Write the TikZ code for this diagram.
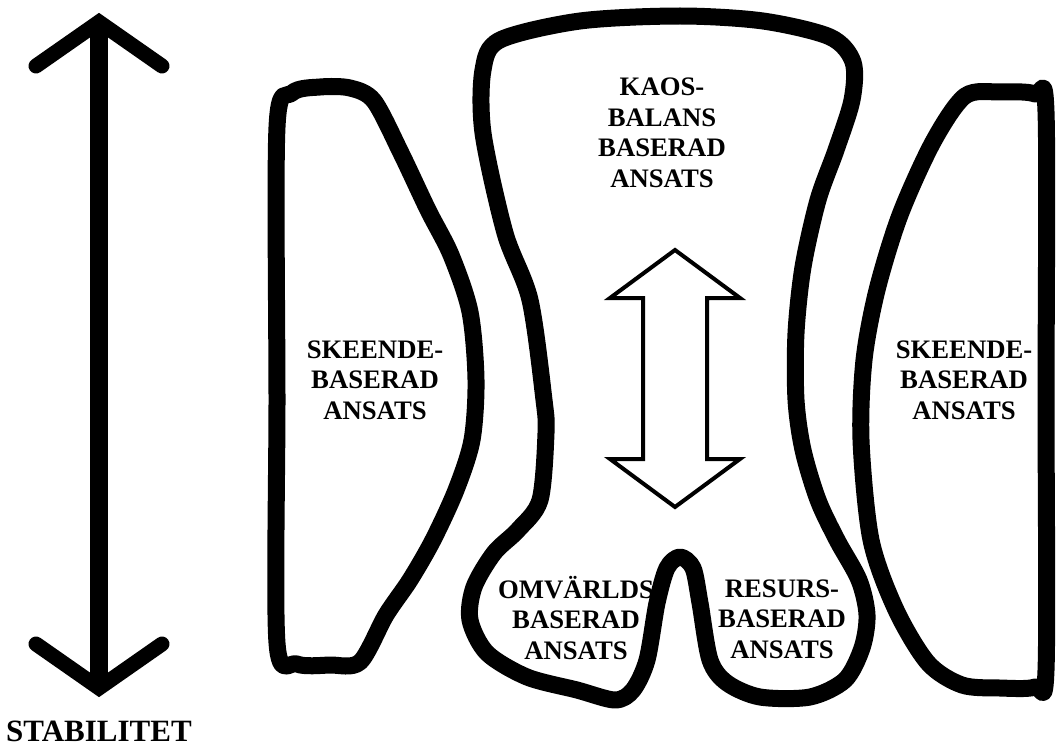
\documentclass[tikz,border=0pt]{standalone}
\usepackage{fontspec}
\setmainfont{Liberation Serif}
\usepackage{tikz}
\usetikzlibrary{positioning, calc}

\begin{document}
\begin{tikzpicture}[x=1pt, y=-1pt,
    blob/.style={draw=black, line width=17pt, line join=round},
    lbl/.style={font=\bfseries\fontsize{26.7}{30.5}\selectfont, align=center, inner sep=0pt}]
    \useasboundingbox (0,0) rectangle (1056,749);
    % stabilitet axis
    \coordinate (stabtop) at (99,22);
    \coordinate (stabbot) at (99,688);
    \draw[line width=18pt] (stabtop) -- (stabbot);
    \draw[line width=15pt, line cap=round, line join=miter] (36,66) -- (stabtop) -- (162,66);
    \draw[line width=15pt, line cap=round, line join=miter] (36,644) -- (stabbot) -- (162,644);
    \node[lbl, font=\bfseries\fontsize{31}{36}\selectfont] (stab) at (99,731) {STABILITET};
    % left shape
    \draw[blob] plot[smooth cycle, tension=0.5] coordinates {(277,643) (277,400) (277,127) (292,93) (320,87) (350,88) (374,101) (401,153) (428,210) (451,255) (470,312) (476,380) (472,440) (456,490) (433,540) (410,580) (386,615) (360,662) (330,665) (297,664)};
    % right shape
    \draw[blob] plot[smooth cycle, tension=0.5] coordinates {(965,96) (1000,92) (1035,94) (1046,112) (1046,400) (1046,670) (1035,687) (1000,688) (962,685) (928,663) (896,610) (871,540) (861,440) (864,360) (877,290) (900,215) (933,142)};
    % middle shape
    \draw[blob] plot[smooth cycle, tension=0.5] coordinates {(500,40) (580,21) (680,16) (763,21) (830,37) (853,62) (852,100) (836,150) (818,200) (803,267) (796,333) (796,400) (803,450) (818,500) (837,540) (859,580) (867,615) (862,648) (845,680) (810,697) (760,697) (727,683) (710,660) (700,603) (693,568) (680,557) (667,568) (657,603) (647,660) (633,690) (615,700) (577,690) (527,677) (487,653) (470,620) (474,587) (494,553) (518,530) (540,500) (546,433) (544,400) (530,300) (505,233) (483,133) (483,70)};
    % inner double arrow
    \draw[line width=4pt, line join=miter] (675,250) -- (740,298) -- (707,298) -- (707,459) -- (740,459) -- (675,507) -- (610,459) -- (643,459) -- (643,298) -- (610,298) -- cycle;
    % labels
    \node[lbl] (skeendeL) at (375,380) {SKEENDE-\\BASERAD\\ANSATS};
    \node[lbl] (skeendeR) at (964,380) {SKEENDE-\\BASERAD\\ANSATS};
    \node[lbl] (kaos) at (662,133) {KAOS-\\BALANS\\BASERAD\\ANSATS};
    \node[lbl] (omvarld) at (576,618) {OMVÄRLDS\\BASERAD\\ANSATS};
    \node[lbl] (resurs) at (782,619) {RESURS-\\BASERAD\\ANSATS};
\end{tikzpicture}
\end{document}
